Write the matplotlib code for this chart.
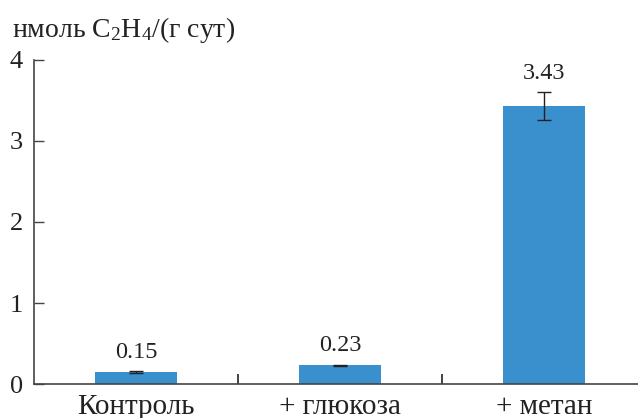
import matplotlib
matplotlib.use('Agg')
import matplotlib.pyplot as plt
from matplotlib.ticker import FixedLocator

plt.rcParams['font.family'] = ['Liberation Serif', 'DejaVu Serif']
plt.rcParams['mathtext.fontset'] = 'custom'
plt.rcParams['mathtext.rm'] = 'Liberation Serif'
plt.rcParams['mathtext.it'] = 'Liberation Serif:italic'

# Этилен (нмоль C2H4 / (г сут)) по вариантам опыта
varianty = ['Контроль', '+ глюкоза', '+ метан']
srednie = [0.15, 0.23, 3.43]
oshibki = [0.01, 0.01, 0.175]
metki = ['0.15', '0.23', '3.43']

cvet = '#3a8fcd'
osi = '#444444'
tekst = '#222222'

fig = plt.figure(figsize=(6.38, 4.18), dpi=100)
ax = fig.add_axes([0.0533, 0.0813, 0.9467, 0.7752])

x = range(len(varianty))
ax.bar(x, srednie, width=0.4, color=cvet, zorder=2)
ax.errorbar(x, srednie, yerr=oshibki, fmt='none', ecolor=tekst,
            elinewidth=1.0, capsize=5, capthick=1.0, zorder=3)

for xi, v, e, t in zip(x, srednie, oshibki, metki):
    ax.annotate(t, (xi, v + e), xytext=(0, 6), textcoords='offset points',
                ha='center', va='bottom', fontsize=17.5, color=tekst)

ax.set_xlim(-0.5, 2.46)
ax.set_ylim(0, 4)
ax.set_yticks([0, 1, 2, 3, 4])
ax.set_xticks(list(x))
ax.set_xticklabels(varianty, fontsize=21, color=tekst)
ax.xaxis.set_minor_locator(FixedLocator([0.5, 1.5]))
ax.tick_params(axis='x', which='major', length=0, pad=7)
ax.tick_params(axis='x', which='minor', direction='in', length=7, width=1.2, color=tekst)
ax.tick_params(axis='y', direction='in', length=7, width=1.0, color=osi,
               labelsize=19, labelcolor=tekst, pad=8)

for s in ['top', 'right']:
    ax.spines[s].set_visible(False)
for s in ['left', 'bottom']:
    ax.spines[s].set_color(osi)
    ax.spines[s].set_linewidth(1.2)

fig.text(12 / 638, 1 - 30 / 418, 'нмоль C$_2$H$_4$/(г сут)', fontsize=20,
         ha='left', va='center', color=tekst)

fig.savefig('out.png', dpi=100)
